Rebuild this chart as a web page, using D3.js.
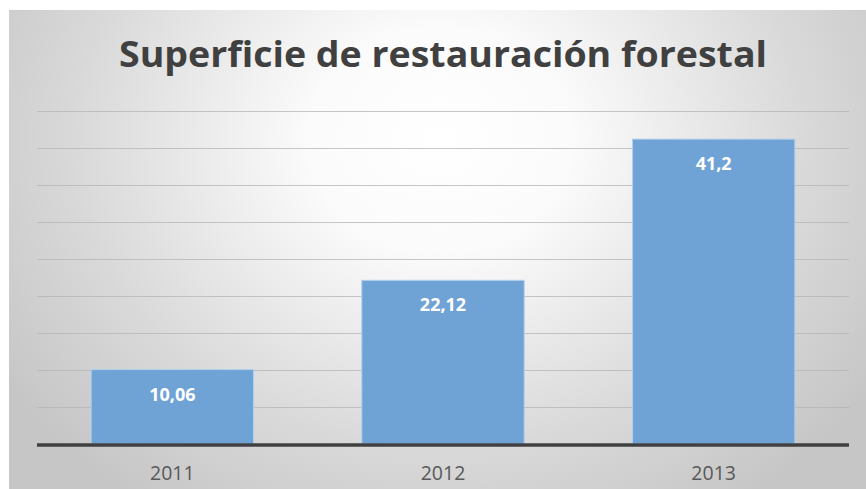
<!DOCTYPE html>
<html>
<head>
<meta charset="utf-8">
<script src="https://cdn.jsdelivr.net/npm/d3@7"></script>
<style>
  html, body { margin: 0; padding: 0; background: #fff; }
  svg { display: block; }
</style>
</head>
<body>
<svg id="chart" width="866" height="489"></svg>
<script>
const title = "Superficie de restauración forestal";
const categories = ["2011", "2012", "2013"];
const values = [10.06, 22.12, 41.2];
const valueLabels = ["10,06", "22,12", "41,2"];
const gridTicks = [5, 10, 15, 20, 25, 30, 35, 40, 45];

const W = 866, H = 489;
const svg = d3.select("#chart");

const defs = svg.append("defs");
const grad = defs.append("radialGradient")
  .attr("id", "bg").attr("gradientUnits", "userSpaceOnUse")
  .attr("cx", 440).attr("cy", 140).attr("r", 520)
  .attr("gradientTransform", "translate(440,140) scale(1,0.85) translate(-440,-140)");
grad.append("stop").attr("offset", "0%").attr("stop-color", "#ffffff");
grad.append("stop").attr("offset", "25%").attr("stop-color", "#fbfbfb");
grad.append("stop").attr("offset", "70%").attr("stop-color", "#d9d9d9");
grad.append("stop").attr("offset", "100%").attr("stop-color", "#c6c6c6");

svg.append("rect").attr("x", 9).attr("y", 10).attr("width", W - 9).attr("height", H - 10)
  .attr("fill", "url(#bg)");

const margin = { left: 37, right: 17, top: 111, bottom: 45 };
const x = d3.scaleBand().domain(categories)
  .range([margin.left, W - margin.right]).paddingInner(0.4).paddingOuter(0.2);
const y = d3.scaleLinear().domain([0, 45]).range([H - margin.bottom, margin.top]);

// gridlines
svg.append("g").selectAll("line").data(gridTicks).join("line")
  .attr("x1", margin.left).attr("x2", W - margin.right)
  .attr("y1", d => Math.round(y(d)) + 0.5).attr("y2", d => Math.round(y(d)) + 0.5)
  .attr("stroke", "#b4b4b4").attr("stroke-opacity", 0.75).attr("stroke-width", 1);

// bars
svg.append("g").selectAll("rect").data(values).join("rect")
  .attr("x", (d, i) => x(categories[i]))
  .attr("y", d => y(d))
  .attr("width", x.bandwidth())
  .attr("height", d => y(0) - y(d))
  .attr("fill", "#6fa3d6")
  .attr("stroke", "#b3d0ee").attr("stroke-width", 1);

// baseline
svg.append("line")
  .attr("x1", margin.left).attr("x2", W - margin.right)
  .attr("y1", y(0) + 1).attr("y2", y(0) + 1)
  .attr("stroke", "#404040").attr("stroke-width", 3.5);

// value labels
svg.append("g").selectAll("text").data(values).join("text")
  .attr("x", (d, i) => x(categories[i]) + x.bandwidth() / 2)
  .attr("y", d => y(d) + 31)
  .attr("text-anchor", "middle")
  .attr("font-family", "Open Sans, Noto Sans, sans-serif")
  .attr("font-weight", "bold").attr("font-size", 18)
  .attr("fill", "#ffffff")
  .text((d, i) => valueLabels[i]);

// category axis labels
const xAxis = d3.axisBottom(x).tickSize(0).tickPadding(0);
const gx = svg.append("g").attr("transform", `translate(0,${y(0)})`).call(xAxis);
gx.select(".domain").remove();
gx.selectAll("text")
  .attr("dy", 0).attr("y", 36)
  .attr("font-family", "Open Sans, Noto Sans, sans-serif")
  .attr("font-size", 19.5).attr("fill", "#595959");

// title
svg.append("text")
  .attr("x", 443).attr("y", 67)
  .attr("text-anchor", "middle")
  .attr("font-family", "Open Sans, Noto Sans, sans-serif")
  .attr("font-weight", "bold").attr("font-size", 35)
  .attr("textLength", 648).attr("lengthAdjust", "spacingAndGlyphs")
  .attr("fill", "#404040")
  .text(title);
</script>
</body>
</html>
